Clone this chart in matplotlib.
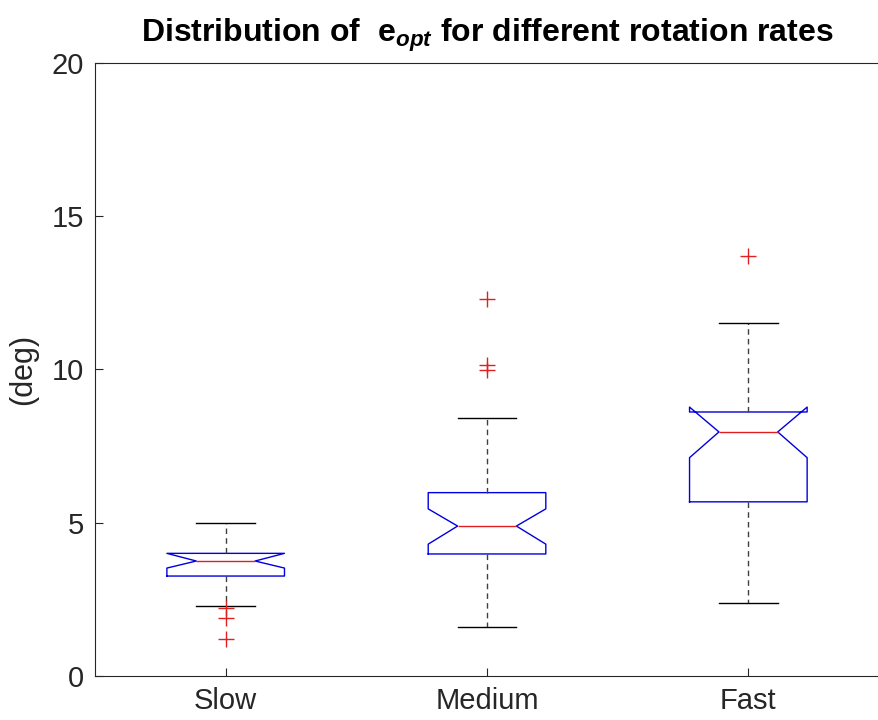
import numpy as np
from matplotlib import pyplot as plt

plt.rcParams['font.family'] = 'Liberation Sans'
plt.rcParams['mathtext.fontset'] = 'custom'
plt.rcParams['mathtext.it'] = 'Liberation Sans:italic:bold'
plt.rcParams['mathtext.rm'] = 'Liberation Sans:bold'

labels = ['Slow', 'Medium', 'Fast']
med = [3.75, 4.89, 7.96]
q1 = [3.26, 3.98, 5.68]
q3 = [4.00, 5.98, 8.61]
cilo = [3.52, 4.30, 7.12]
cihi = [4.00, 5.45, 8.77]
whislo = [2.28, 1.60, 2.39]
whishi = [4.99, 8.41, 11.52]
fliers = [[2.22, 1.89, 1.21], [12.3, 10.15, 9.98], [13.7]]

stats = []
for i in range(len(labels)):
    stats.append(dict(label=labels[i], med=med[i], q1=q1[i], q3=q3[i],
                      cilo=cilo[i], cihi=cihi[i], whislo=whislo[i],
                      whishi=whishi[i], fliers=np.array(fliers[i])))

fig = plt.figure(figsize=(8.79, 7.2), dpi=100)
ax = fig.add_axes([0.1081, 0.0611, 0.8919, 0.8518])

dark = '#262626'
ax.bxp(stats, positions=[1, 2, 3], widths=0.45, shownotches=True,
       boxprops=dict(color='#0000e0', linewidth=1.0),
       medianprops=dict(color='#e02020', linewidth=1.0),
       whiskerprops=dict(color='#404040', linewidth=1.0, linestyle=(0, (4, 3))),
       capprops=dict(color='black', linewidth=1.0),
       flierprops=dict(marker='+', markeredgecolor='#e02020', markersize=11,
                       markeredgewidth=1.0, linestyle='none'))

ax.set_xlim(0.5, 3.5)
ax.set_ylim(0, 20)
ax.set_yticks([0, 5, 10, 15, 20])
ax.set_xticks([1, 2, 3])
ax.set_xticklabels(labels)
ax.tick_params(direction='in', length=6, width=0.8, colors=dark,
               labelsize=21, pad=8)
ax.spines['right'].set_visible(False)
for s in ['left', 'top', 'bottom']:
    ax.spines[s].set_color(dark)
    ax.spines[s].set_linewidth(0.8)

ax.set_ylabel('(deg)', fontsize=22, color=dark, labelpad=10)
ax.set_title(r'Distribution of  $\mathrm{e}_{\mathit{opt}}$ for different rotation rates',
             fontsize=23, fontweight='bold', pad=15)

fig.savefig('out.png', dpi=100)
